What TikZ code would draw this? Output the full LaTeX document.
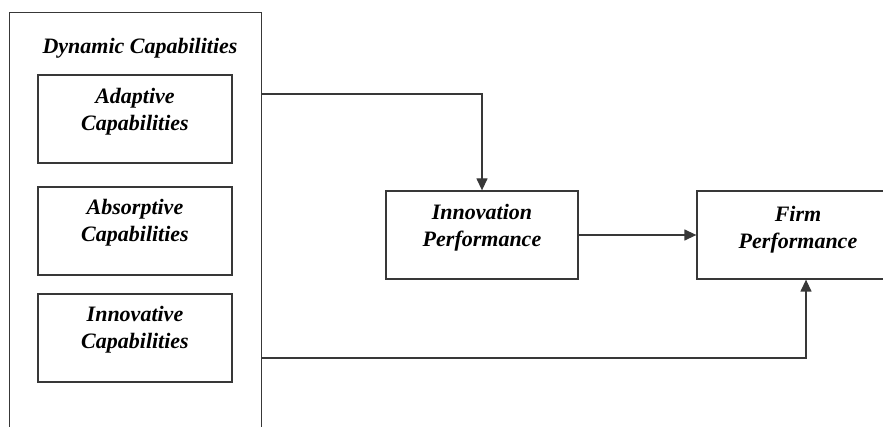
\documentclass[tikz,border=0pt]{standalone}
\usepackage{fontspec}
\setmainfont{Liberation Serif}
\usetikzlibrary{positioning,arrows.meta}

\begin{document}
\begin{tikzpicture}[x=1pt, y=-1pt,
    box/.style={draw=borderColour, line width=1.3pt, minimum width=#1, minimum height=88pt, inner sep=0pt},
    boxtext/.style={align=center, inner sep=0pt, text=black, font=\fontsize{22}{27}\selectfont\bfseries\itshape},
    link/.style={draw=borderColour, line width=1.3pt},
    arrow/.style={link, -{Triangle[length=12pt,width=11pt]}}]
    \definecolor{borderColour}{HTML}{383838}

    \def\pageWidth{883}
    \def\pageHeight{427}

    % Fix the page
    \useasboundingbox (0,0) rectangle (\pageWidth,\pageHeight);

    % Dynamic capabilities, running past the lower edge
    \node[box=252pt, minimum height=440pt, anchor=north west] (dyn) at (9,12) {};
    \node[boxtext, anchor=north] (dynT) at (140,38) {Dynamic Capabilities};

    % The three capabilities
    \node[box=194pt] (adapt) at (135,119) {};
    \node[box=194pt] (absorp) at (135,231) {};
    \node[box=194pt] (innov) at (135,338) {};
    \node[boxtext, below=14pt of adapt.north] (adaptT) {Adaptive\\Capabilities};
    \node[boxtext, below=13pt of absorp.north] (absorpT) {Absorptive\\Capabilities};
    \node[boxtext, below=13pt of innov.north] (innovT) {Innovative\\Capabilities};

    % Outcomes
    \node[box=192pt] (innovPerf) at (482,235) {};
    \node[box=202pt] (firm) at (798,235) {};
    \node[boxtext, below=14pt of innovPerf.north] (innovPerfT) {Innovation\\Performance};
    \node[boxtext, below=16pt of firm.north] (firmT) {Firm\\Performance};

    % Connectors
    \path (dyn.north east) ++(0,82) coordinate (dynUpper);
    \path (dyn.north east) ++(0,346) coordinate (dynLower);
    \coordinate (firmIn) at ([xshift=8pt]firm.south);

    \draw[arrow] (dynUpper) -| (innovPerf.north);
    \draw[arrow] (innovPerf) -- (firm);
    \draw[arrow] (dynLower) -| (firmIn);

\end{tikzpicture}
\end{document}
